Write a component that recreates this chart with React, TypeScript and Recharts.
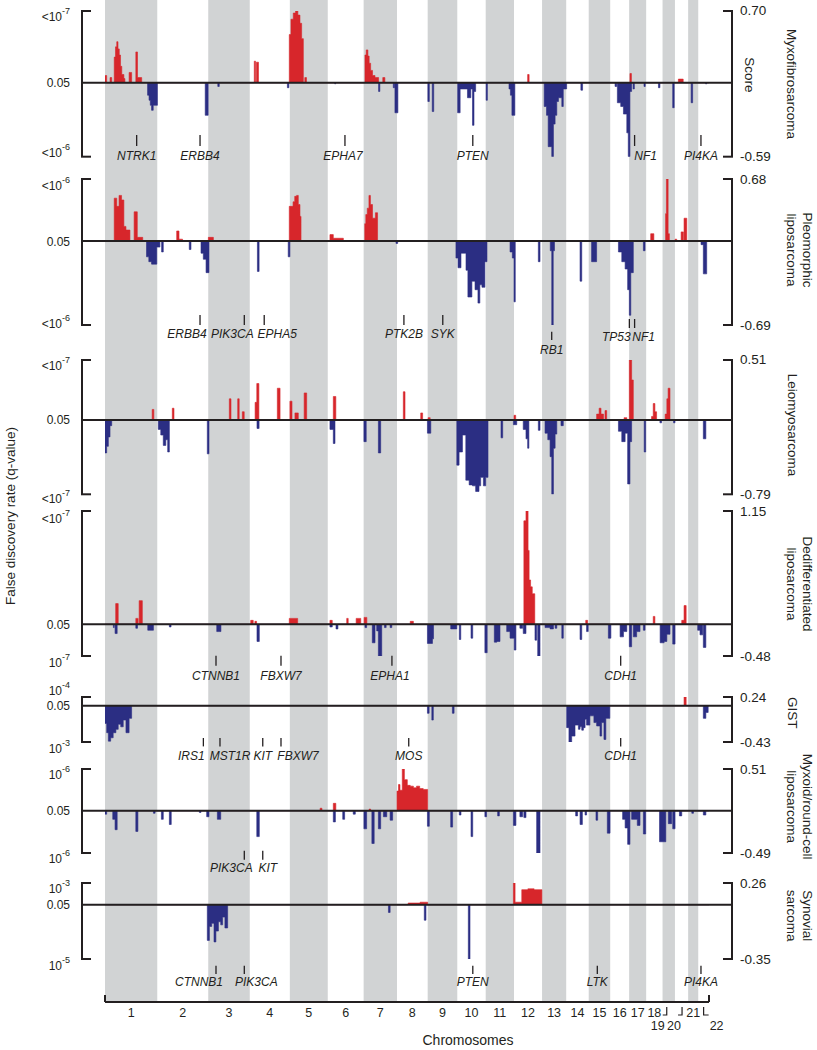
import React from 'react';
import { ComposedChart, Area, XAxis, YAxis, ReferenceLine, ReferenceDot } from 'recharts';

type Seg = [number, number, number];
type Gene = [string, number, number];
type QLabel = { base: string; exp?: string };

const FONT = '"Liberation Sans", Arial, Helvetica, sans-serif';
const INK = '#231f20';
const RED = '#d7262b';
const BLUE = '#2b2e83';
const GRAY = '#d1d3d4';

// ---------- genome ----------
const CHROM_NAMES = ['1','2','3','4','5','6','7','8','9','10','11','12','13','14','15','16','17','18','19','20','21','22'];
const CHROM_LENGTHS_MB = [249.25, 243.2, 198.02, 191.15, 180.92, 171.12, 159.14, 146.36, 141.21, 135.53, 135.01, 133.85, 115.17, 107.35, 102.53, 90.35, 81.2, 78.08, 59.13, 63.03, 48.13, 51.3];
const CHROM_STARTS_MB: number[] = [];
CHROM_LENGTHS_MB.reduce((acc, len) => { CHROM_STARTS_MB.push(acc); return acc + len; }, 0);
const GENOME_MB = CHROM_LENGTHS_MB.reduce((a, b) => a + b, 0);
const CHROM_MIDS_MB = CHROM_STARTS_MB.map((s, i) => s + CHROM_LENGTHS_MB[i] / 2);
const X_PAD_MB = 109.7;

// ---------- Myxofibrosarcoma ----------
const mfsQ: QLabel[] = [{ base: '<10', exp: '-7' }, { base: '0.05' }, { base: '<10', exp: '-6' }];
const mfsScores = [0.70, -0.59];
const mfsAmp: Seg[] = [
  [0,8,0.07],[24,32,0.05],[44,50,0.25],[50,56,0.35],[56,62,0.40],[62,68,0.33],[68,74,0.27],[74,80,0.16],[80,90,0.08],[90,95,0.04],[115,127,0.10],[147,155,0.30],[155,175,0.05],
  [712,718,0.21],[722,732,0.20],
  [879,887,0.47],[887,898,0.62],[898,909,0.68],[909,920,0.70],[920,930,0.66],[930,938,0.58],[938,946,0.43],[953,961,0.05],
  [1240,1246,0.27],[1246,1254,0.32],[1254,1260,0.26],[1260,1267,0.19],[1267,1276,0.12],[1276,1288,0.07],[1288,1305,0.05],[1325,1335,0.05],
  [2016,2023,0.08],[2504,2511,0.09],[2735,2758,0.035],
];
const mfsDel: Seg[] = [
  [203,210,-0.10],[210,216,-0.14],[216,222,-0.18],[222,230,-0.22],[230,250,-0.18],
  [478,492,-0.26],[538,545,-0.03],[870,877,-0.04],[1096,1100,-0.01],[1305,1311,-0.07],[1375,1381,-0.04],[1383,1397,-0.24],
  [1540,1547,-0.15],[1561,1568,-0.23],
  [1682,1694,-0.24],[1694,1729,-0.05],[1729,1745,-0.12],[1745,1753,-0.05],[1753,1760,-0.34],[1760,1768,-0.07],
  [1818,1824,-0.14],[1927,1934,-0.05],[1934,1941,-0.10],[1941,1955,-0.26],
  [2095,2106,-0.19],[2106,2114,-0.26],[2114,2131,-0.51],[2131,2139,-0.59],[2139,2147,-0.33],[2147,2155,-0.26],[2155,2163,-0.15],[2163,2179,-0.12],[2179,2186,-0.19],[2186,2202,-0.05],
  [2270,2278,-0.06],[2433,2441,-0.03],[2444,2460,-0.16],[2460,2473,-0.19],[2473,2489,-0.25],[2489,2496,-0.40],[2496,2504,-0.59],[2504,2512,-0.07],[2519,2525,-0.05],
  [2571,2577,-0.03],[2640,2647,-0.04],[2708,2715,-0.20],[2796,2803,-0.16],[2865,2870,-0.01],
];
const mfsGenes: Gene[] = [['NTRK1',1,151],['ERBB4',2,204],['EPHA7',6,82],['PTEN',10,74],['NF1',17,26],['PI4KA',22,13]];

// ---------- Pleomorphic liposarcoma ----------
const plsQ: QLabel[] = [{ base: '<10', exp: '-6' }, { base: '0.05' }, { base: '<10', exp: '-6' }];
const plsScores = [0.68, -0.69];
const plsAmp: Seg[] = [
  [44,56,0.47],[56,67,0.38],[67,79,0.50],[79,90,0.45],[90,100,0.16],[100,119,0.12],[139,154,0.32],[154,180,0.04],
  [342,353,0.11],[353,370,0.02],[493,517,0.04],
  [879,887,0.38],[887,897,0.38],[897,905,0.43],[905,914,0.49],[914,922,0.50],[922,930,0.40],[930,935,0.27],
  [1073,1089,0.07],[1089,1137,0.03],
  [1239,1244,0.19],[1244,1251,0.29],[1251,1259,0.36],[1259,1266,0.50],[1266,1276,0.40],[1276,1290,0.25],[1290,1300,0.31],
  [2603,2618,0.08],[2674,2678,0.30],[2678,2686,0.68],[2686,2692,0.08],[2719,2727,0.02],[2748,2759,0.10],[2762,2775,0.25],
];
const plsDel: Seg[] = [
  [198,209,-0.13],[209,222,-0.17],[222,238,-0.19],[238,247,-0.19],[247,262,-0.05],[270,278,-0.09],
  [402,410,-0.07],[458,469,-0.10],[469,482,-0.15],[482,496,-0.26],
  [727,735,-0.25],[874,882,-0.13],[1388,1396,-0.02],
  [1674,1684,-0.14],[1684,1698,-0.22],[1698,1722,-0.10],[1722,1731,-0.24],[1731,1750,-0.46],[1750,1765,-0.33],[1765,1779,-0.40],[1779,1788,-0.51],[1788,1798,-0.36],[1798,1812,-0.38],[1812,1822,-0.17],
  [1932,1943,-0.09],[1943,1951,-0.14],[1951,1957,-0.50],
  [2067,2075,-0.17],[2124,2131,-0.08],[2131,2138,-0.69],[2138,2144,-0.08],
  [2266,2274,-0.33],[2321,2345,-0.17],
  [2449,2465,-0.09],[2465,2481,-0.17],[2481,2493,-0.23],[2493,2501,-0.40],[2501,2508,-0.61],[2508,2520,-0.26],
  [2568,2576,-0.08],[2843,2854,-0.03],[2854,2870,-0.27],
];
const plsGenes: Gene[] = [['ERBB4',2,204],['PIK3CA',3,172],['EPHA5',4,69],['PTK2B',8,33],['SYK',9,72],['RB1',13,46],['TP53',17,1],['NF1',17,26]];

// ---------- Leiomyosarcoma ----------
const lmsQ: QLabel[] = [{ base: '<10', exp: '-7' }, { base: '0.05' }, { base: '<10', exp: '-7' }];
const lmsScores = [0.51, -0.79];
const lmsAmp: Seg[] = [
  [225,233,0.09],[321,329,0.10],[593,601,0.18],[633,640,0.18],[655,664,0.07],
  [716,724,0.15],[724,734,0.31],[822,835,0.27],[882,892,0.16],[906,922,0.06],[950,962,0.23],
  [1089,1101,0.20],[1423,1431,0.24],[1506,1515,0.06],[1541,1551,0.02],[1951,1959,0.04],
  [2345,2357,0.05],[2357,2366,0.10],[2366,2378,0.05],[2385,2393,0.08],
  [2476,2489,0.02],[2501,2512,0.51],[2512,2520,0.34],
  [2607,2615,0.03],[2615,2623,0.14],[2623,2631,0.07],[2672,2680,0.05],[2680,2686,0.18],[2686,2695,0.27],
];
const lmsDel: Seg[] = [
  [0,8,-0.35],[8,16,-0.28],[16,24,-0.18],[24,32,-0.06],
  [254,266,-0.10],[266,278,-0.16],[278,290,-0.27],[290,299,-0.21],[299,307,-0.34],
  [488,496,-0.36],[725,735,-0.09],[1073,1089,-0.10],[1089,1097,-0.25],
  [1235,1246,-0.23],[1304,1315,-0.35],[1538,1554,-0.14],
  [1678,1689,-0.48],[1689,1705,-0.34],[1705,1721,-0.16],[1721,1737,-0.64],[1737,1753,-0.69],[1753,1768,-0.70],[1768,1784,-0.76],[1784,1792,-0.70],[1792,1805,-0.61],[1805,1816,-0.70],[1816,1827,-0.61],
  [1889,1897,-0.19],[1948,1964,-0.05],[1995,2008,-0.10],[2008,2016,-0.20],[2016,2022,-0.30],[2067,2075,-0.11],
  [2099,2112,-0.14],[2112,2123,-0.21],[2123,2131,-0.39],[2131,2139,-0.79],[2139,2147,-0.30],[2147,2155,-0.15],[2175,2186,-0.06],
  [2449,2465,-0.12],[2465,2481,-0.23],[2481,2493,-0.14],[2493,2504,-0.68],[2504,2512,-0.23],[2572,2579,-0.34],
  [2647,2655,-0.03],[2712,2719,-0.03],[2854,2866,-0.20],
];
const lmsGenes: Gene[] = [];

// ---------- Dedifferentiated liposarcoma ----------
const ddlQ: QLabel[] = [{ base: '<10', exp: '-7' }, { base: '0.05' }, { base: '10', exp: '-7' }];
const ddlScores = [1.15, -0.48];
const ddlAmp: Seg[] = [
  [51,63,0.21],[147,158,0.06],[163,178,0.24],[695,707,0.04],[715,723,0.03],[879,919,0.06],
  [1073,1084,0.04],[1153,1160,0.06],[1198,1220,0.06],[1236,1249,0.07],[1456,1471,0.03],
  [1998,2008,1.05],[2008,2018,1.15],[2018,2023,0.75],[2023,2030,0.45],[2030,2038,0.38],[2038,2050,0.31],
  [2293,2302,0.04],[2615,2623,0.08],[2751,2762,0.04],[2762,2772,0.19],
];
const ddlDel: Seg[] = [
  [40,44,-0.05],[48,58,-0.14],[147,155,-0.06],[204,231,-0.09],[307,315,-0.04],[533,553,-0.11],[725,736,-0.26],
  [1073,1084,-0.04],[1102,1111,-0.07],[1240,1248,-0.05],[1275,1288,-0.28],[1296,1304,-0.10],[1304,1320,-0.48],[1333,1341,-0.05],[1360,1368,-0.05],
  [1538,1562,-0.29],[1562,1567,-0.22],[1649,1678,-0.07],[1690,1697,-0.23],[1746,1754,-0.21],
  [1812,1823,-0.43],[1857,1869,-0.27],[1869,1884,-0.26],[1916,1932,-0.11],[1932,1952,-0.21],[1952,1960,-0.39],
  [1979,1992,-0.06],[1995,2008,-0.14],[2051,2059,-0.24],[2064,2075,-0.48],
  [2099,2123,-0.05],[2123,2139,-0.07],[2147,2155,-0.06],[2179,2186,-0.21],
  [2266,2274,-0.23],[2297,2305,-0.11],[2401,2413,-0.21],
  [2457,2473,-0.19],[2473,2489,-0.11],[2501,2512,-0.34],[2520,2536,-0.19],[2536,2552,-0.11],[2568,2576,-0.09],
  [2648,2667,-0.28],[2667,2680,-0.26],[2680,2695,-0.15],[2708,2719,-0.30],
  [2827,2838,-0.09],[2838,2851,-0.16],[2854,2866,-0.35],
];
const ddlGenes: Gene[] = [['CTNNB1',3,37],['FBXW7',4,149],['EPHA1',7,135],['CDH1',16,50]];

// ---------- GIST ----------
const gistQ: QLabel[] = [{ base: '10', exp: '-4' }, { base: '0.05' }, { base: '10', exp: '-3' }];
const gistScores = [0.24, -0.43];
const gistAmp: Seg[] = [[2762,2772,0.24]];
const gistDel: Seg[] = [
  [0,8,-0.21],[8,16,-0.32],[16,27,-0.42],[27,39,-0.38],[39,52,-0.32],[52,63,-0.28],[63,75,-0.22],[75,87,-0.25],[87,100,-0.17],[100,115,-0.32],[115,127,-0.15],
  [1538,1546,-0.09],[1559,1566,-0.17],[1657,1665,-0.09],
  [2202,2213,-0.26],[2213,2226,-0.43],[2226,2242,-0.36],[2242,2258,-0.23],[2258,2266,-0.28],[2266,2274,-0.25],[2274,2282,-0.29],[2282,2290,-0.26],[2290,2297,-0.16],[2297,2313,-0.23],[2313,2332,-0.12],[2332,2345,-0.20],[2345,2361,-0.24],[2361,2369,-0.36],[2369,2380,-0.20],[2380,2389,-0.40],[2389,2408,-0.15],
  [2854,2866,-0.15],[2866,2877,-0.08],
];
const gistGenes: Gene[] = [['IRS1',2,220],['MST1R',3,56],['KIT',4,62],['FBXW7',4,149],['MOS',8,56],['CDH1',16,50]];

// ---------- Myxoid/round-cell liposarcoma ----------
const mrclQ: QLabel[] = [{ base: '10', exp: '-6' }, { base: '0.05' }, { base: '10', exp: '-6' }];
const mrclScores = [0.51, -0.49];
const mrclAmp: Seg[] = [
  [1026,1035,0.03],[1089,1101,0.09],[1260,1267,0.02],
  [1393,1400,0.24],[1400,1407,0.32],[1407,1418,0.25],[1418,1428,0.51],[1428,1442,0.38],[1442,1456,0.31],[1456,1471,0.30],[1471,1486,0.28],[1486,1501,0.30],[1501,1518,0.27],[1518,1539,0.26],
];
const mrclDel: Seg[] = [
  [0,8,-0.04],[37,48,-0.10],[48,58,-0.22],[147,157,-0.24],[231,239,-0.03],
  [269,278,-0.10],[307,316,-0.16],[450,458,-0.02],[485,496,-0.07],[536,552,-0.10],[724,736,-0.30],
  [1089,1099,-0.13],[1134,1143,-0.10],[1184,1194,-0.04],
  [1235,1248,-0.21],[1273,1284,-0.38],[1304,1315,-0.21],[1328,1344,-0.07],[1360,1372,-0.11],
  [1538,1547,-0.18],[1649,1658,-0.19],[1690,1698,-0.05],[1746,1754,-0.30],[1812,1820,-0.07],[1873,1881,-0.06],
  [1948,1960,-0.17],[1979,1992,-0.07],[1998,2008,-0.08],[2059,2075,-0.49],
  [2245,2254,-0.06],[2266,2277,-0.16],[2290,2297,-0.05],[2342,2350,-0.11],[2396,2409,-0.26],
  [2469,2481,-0.10],[2481,2493,-0.20],[2493,2504,-0.39],[2512,2539,-0.10],[2539,2552,-0.17],[2568,2579,-0.27],
  [2645,2675,-0.36],[2687,2703,-0.15],[2708,2719,-0.21],[2740,2751,-0.06],[2799,2807,-0.03],[2854,2866,-0.05],
];
const mrclGenes: Gene[] = [['PIK3CA',3,172],['KIT',4,62]];

// ---------- Synovial sarcoma ----------
const ssQ: QLabel[] = [{ base: '10', exp: '-3' }, { base: '0.05' }, { base: '10', exp: '-5' }];
const ssScores = [0.26, -0.35];
const ssAmp: Seg[] = [[1446,1503,0.02],[1503,1539,0.03],[1948,1956,0.26],[1956,1988,0.03],[1988,2017,0.18],[2017,2047,0.19],[2047,2084,0.18]];
const ssDel: Seg[] = [
  [488,498,-0.23],[498,509,-0.14],[509,520,-0.12],[520,529,-0.24],[529,541,-0.17],[541,552,-0.11],[552,561,-0.13],[561,572,-0.08],[572,585,-0.15],
  [1352,1360,-0.05],[1523,1531,-0.10],[1733,1741,-0.35],
];
const ssGenes: Gene[] = [['CTNNB1',3,37],['PIK3CA',3,172],['PTEN',10,74],['LTK',15,41],['PI4KA',22,13]];

const PANELS = [
  { names: ['Myxofibrosarcoma'], extra: 'Score', q: mfsQ, scores: mfsScores, amp: mfsAmp, del: mfsDel, genes: mfsGenes },
  { names: ['Pleomorphic', 'liposarcoma'], q: plsQ, scores: plsScores, amp: plsAmp, del: plsDel, genes: plsGenes },
  { names: ['Leiomyosarcoma'], q: lmsQ, scores: lmsScores, amp: lmsAmp, del: lmsDel, genes: lmsGenes },
  { names: ['Dedifferentiated', 'liposarcoma'], q: ddlQ, scores: ddlScores, amp: ddlAmp, del: ddlDel, genes: ddlGenes },
  { names: ['GIST'], q: gistQ, scores: gistScores, amp: gistAmp, del: gistDel, genes: gistGenes },
  { names: ['Myxoid/round-cell', 'liposarcoma'], q: mrclQ, scores: mrclScores, amp: mrclAmp, del: mrclDel, genes: mrclGenes },
  { names: ['Synovial', 'sarcoma'], q: ssQ, scores: ssScores, amp: ssAmp, del: ssDel, genes: ssGenes },
];

// ---------- layout (page pixels) ----------
const LAYOUT = [
  { yTop: 11, yBase: 82.7, yBot: 156.7, qDy: [6, 0.5, -4], nameY: 84, extraY: 75, row: [-21.7, -10.7, -1], geneDx: { EPHA7: -2, NF1: 11 } as any, geneRow: {} as any },
  { yTop: 179, yBase: 241, yBot: 325, qDy: [7, 0.5, -1], nameY: 250, row: [-10, 0, 9], geneDx: { ERBB4: -13, PIK3CA: -12, EPHA5: 13, TP53: -13, NF1: 9 } as any, geneRow: { RB1: [6.7, 15, 25], TP53: [-6, 3, 11.7], NF1: [-6, 3, 11.7] } as any },
  { yTop: 360, yBase: 420, yBot: 494.3, qDy: [6, 0.5, 5], nameY: 425, row: [-10, 0, 9], geneDx: {} as any, geneRow: {} as any },
  { yTop: 511, yBase: 624.3, yBot: 656, qDy: [8, 0.5, 7], nameY: 584, row: [-0.3, 9.7, 20], geneDx: { EPHA1: -2 } as any, geneRow: {} as any },
  { yTop: 697.3, yBase: 706, yBot: 742.3, qDy: [-6, 0.5, 7], nameY: 713, row: [-4, 4.4, 14.4], geneDx: { IRS1: -12, MST1R: 10, FBXW7: 17 } as any, geneRow: {} as any },
  { yTop: 769.3, yBase: 811, yBot: 853.3, qDy: [6, 0, 6], nameY: 807, row: [-2.3, 6.7, 15], geneDx: { PIK3CA: -13, KIT: 5 } as any, geneRow: {} as any },
  { yTop: 883.3, yBase: 905, yBot: 959.3, qDy: [6, 0.5, 7], nameY: 916, row: [6.7, 15, 23.4], geneDx: { CTNNB1: -17, PIK3CA: 12 } as any, geneRow: {} as any },
];

const MT = 26;
const MB = 36;

function buildSteps(amp: Seg[], del: Seg[], top: number, bot: number, U: number, D: number) {
  const xs = new Set<number>([0, GENOME_MB]);
  amp.concat(del).forEach(([s, e]) => { xs.add(s); xs.add(e); });
  const sorted = Array.from(xs).sort((a, b) => a - b);
  const at = (segs: Seg[], x: number) => {
    const s = segs.find(([a, b]) => x >= a && x < b);
    return s ? s[2] : 0;
  };
  return sorted.map((x) => ({
    x,
    amp: (at(amp, x) / top) * U,
    del: (at(del, x) / Math.abs(bot)) * D,
  }));
}

const Panel = ({ p, l }: { p: any; l: any }) => {
  const U = l.yBase - l.yTop;
  const D = l.yBot - l.yBase;
  const top0 = l.yTop - MT;
  const h = U + D + MT + MB;
  const data = buildSteps(p.amp, p.del, p.scores[0], p.scores[1], U, D);
  const cy = (pageY: number) => pageY - top0;
  const nameXs = p.names.length === 1 ? [792] : [807, 791];

  const leftTick = (props: any) => {
    const { x, y, payload } = props;
    const v = payload.value;
    const idx = v > 0 ? 0 : v < 0 ? 2 : 1;
    const lab: QLabel = p.q[idx];
    return (
      <g>
        {idx !== 1 ? <line x1={x} x2={x + 8} y1={y} y2={y} stroke={INK} strokeWidth={2} strokeLinecap="square" /> : null}
        <text x={x - 12} y={y + l.qDy[idx]} textAnchor="end" dominantBaseline="central" fontFamily={FONT} fontSize={12} fill={INK}>
          <tspan>{lab.base}</tspan>
          {lab.exp ? <tspan dy={-6} fontSize={9}>{lab.exp}</tspan> : null}
        </text>
      </g>
    );
  };

  const rightTick = (props: any) => {
    const { x, y, payload } = props;
    const val = payload.value > 0 ? p.scores[0] : p.scores[1];
    return (
      <g>
        <line x1={x - 8} x2={x} y1={y} y2={y} stroke={INK} strokeWidth={2} strokeLinecap="square" />
        <text x={x + 8} y={y} dominantBaseline="central" fontFamily={FONT} fontSize={13.5} fill={INK}>{val.toFixed(2)}</text>
      </g>
    );
  };

  const namesLabel = () => (
    <g>
      {p.names.map((n: string, i: number) => (
        <text key={n} x={nameXs[i]} y={cy(l.nameY)} transform={`rotate(90 ${nameXs[i]} ${cy(l.nameY)})`} textAnchor="middle" dominantBaseline="central" fontFamily={FONT} fontSize={13.5} fill={INK}>{n}</text>
      ))}
      {p.extra ? (
        <text x={750} y={cy(l.extraY)} transform={`rotate(90 750 ${cy(l.extraY)})`} textAnchor="middle" dominantBaseline="central" fontFamily={FONT} fontSize={13.5} fill={INK}>{p.extra}</text>
      ) : null}
    </g>
  );

  return (
    <div style={{ position: 'absolute', left: 0, top: top0, width: 817, height: h }}>
      <ComposedChart width={817} height={h} data={data} margin={{ top: MT, right: 0, bottom: MB, left: 0 }}>
        <XAxis type="number" dataKey="x" domain={[-X_PAD_MB, GENOME_MB + X_PAD_MB]} hide allowDataOverflow />
        <YAxis yAxisId="left" type="number" domain={[-D, U]} ticks={[U, 0, -D]} interval={0} width={82} tickSize={0} tickMargin={0}
          axisLine={{ stroke: INK, strokeWidth: 2 }} tickLine={false} tick={leftTick} allowDataOverflow />
        <YAxis yAxisId="right" orientation="right" type="number" domain={[-D, U]} ticks={[U, -D]} interval={0} width={85} tickSize={0} tickMargin={0}
          axisLine={{ stroke: INK, strokeWidth: 2 }} tickLine={false} tick={rightTick} allowDataOverflow label={namesLabel} />
        <Area yAxisId="left" type="stepAfter" dataKey="amp" baseValue={0} stroke={RED} strokeWidth={0.6} fill={RED} fillOpacity={1} dot={false} activeDot={false} isAnimationActive={false} />
        <Area yAxisId="left" type="stepAfter" dataKey="del" baseValue={0} stroke={BLUE} strokeWidth={0.6} fill={BLUE} fillOpacity={1} dot={false} activeDot={false} isAnimationActive={false} />
        <ReferenceLine yAxisId="left" y={0} stroke={INK} strokeWidth={2} />
        {p.genes.map(([name, chrom, pos]: Gene) => {
          const row = l.geneRow[name] || l.row;
          const dx = l.geneDx[name] || 0;
          return (
            <ReferenceDot key={name} yAxisId="left" x={CHROM_STARTS_MB[chrom - 1] + pos} y={-D} r={3} ifOverflow="visible"
              shape={(s: any) => (
                <g>
                  <line x1={s.cx} x2={s.cx} y1={s.cy + row[0]} y2={s.cy + row[1]} stroke={INK} strokeWidth={1.3} />
                  <text x={s.cx + dx} y={s.cy + row[2]} textAnchor="middle" dominantBaseline="central" fontFamily={FONT} fontStyle="italic" fontSize={12} fill={INK}>{name}</text>
                </g>
              )} />
          );
        })}
      </ComposedChart>
    </div>
  );
};

const LEADERS: Record<string, { vx: number; hook: number; dx: number }> = {
  '19': { vx: -2, hook: -4, dx: -11 },
  '20': { vx: 0.5, hook: -4, dx: -7.5 },
  '22': { vx: 0, hook: 5, dx: 13 },
};

const chromTick = (props: any) => {
  const { x, y, payload } = props;
  const v = payload.value;
  if (Math.abs(v) < 1e-6 || Math.abs(v - GENOME_MB) < 1e-6) {
    return <line x1={x} x2={x} y1={y} y2={y - 7} stroke={INK} strokeWidth={2} />;
  }
  const i = CHROM_MIDS_MB.findIndex((m) => Math.abs(m - v) < 1e-6);
  const name = CHROM_NAMES[i];
  const ld = LEADERS[name];
  if (ld) {
    const lx = x + ld.vx;
    return (
      <g>
        <path d={`M${lx},${y + 5} L${lx},${y + 13} L${lx + ld.hook},${y + 13}`} fill="none" stroke={INK} strokeWidth={1.2} />
        <text x={x + ld.dx} y={y + 28} textAnchor="middle" fontFamily={FONT} fontSize={12.5} fill={INK}>{name}</text>
      </g>
    );
  }
  return <text x={x} y={y + 15} textAnchor="middle" fontFamily={FONT} fontSize={12.5} fill={INK}>{name}</text>;
};

// odd chromosomes are shaded: step series over chromosome boundaries
const BAND_DATA = CHROM_STARTS_MB.map((x, i) => ({ x, band: i % 2 === 0 ? 100 : 0 })).concat([{ x: GENOME_MB, band: 0 }]);

const Background = () => (
  <div style={{ position: 'absolute', left: 0, top: 0, width: 817, height: 1050 }}>
    <ComposedChart width={817} height={1050} data={BAND_DATA} margin={{ top: 0, right: 108, bottom: 0, left: 0 }}>
      <XAxis type="number" dataKey="x" domain={[0, GENOME_MB]} ticks={[0, ...CHROM_MIDS_MB, GENOME_MB]} interval={0} height={48}
        tickSize={0} tickMargin={0} tickLine={false} axisLine={{ stroke: INK, strokeWidth: 2 }} tick={chromTick} allowDataOverflow
        label={() => <text x={468} y={1040} textAnchor="middle" dominantBaseline="central" fontFamily={FONT} fontSize={14} fill={INK}>Chromosomes</text>} />
      <YAxis type="number" domain={[0, 100]} width={105} tick={false} axisLine={false} tickLine={false} allowDataOverflow
        label={() => <text x={10} y={516} transform="rotate(-90 10 516)" textAnchor="middle" dominantBaseline="central" fontFamily={FONT} fontSize={13.5} fill={INK}>False discovery rate (q-value)</text>} />
      <Area type="stepAfter" dataKey="band" baseValue={0} stroke="none" fill={GRAY} fillOpacity={1} dot={false} activeDot={false} isAnimationActive={false} />
    </ComposedChart>
  </div>
);

export default function App() {
  return (
    <div style={{ position: 'absolute', left: 0, top: 0, width: 817, height: 1050, background: '#fff', fontFamily: FONT }}>
      <Background />
      {PANELS.map((p, i) => <Panel key={i} p={p} l={LAYOUT[i]} />)}
    </div>
  );
}
